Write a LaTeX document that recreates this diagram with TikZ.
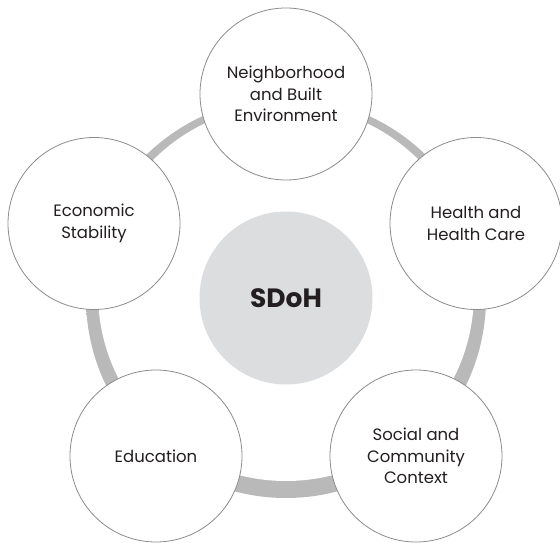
\documentclass[tikz,border=0pt]{standalone}
\usepackage{fontspec}
\setmainfont{Poppins}
\usepackage{tikz}

\definecolor{linegray}{HTML}{8C8C8C}
\definecolor{textdark}{HTML}{231F20}
\definecolor{coregray}{HTML}{DCDDDF}
\definecolor{discedge}{HTML}{DADADA}
\definecolor{ringlight}{HTML}{B9B9B9}
\definecolor{ringdark}{HTML}{8E8E8E}

\pgfdeclareradialshading{discshade}{\pgfpointorigin}{color(0bp)=(white); color(28bp)=(white); color(50bp)=(discedge)}
\pgfdeclareradialshading{ringshade}{\pgfpointorigin}{color(0bp)=(ringlight); color(45.5bp)=(ringlight); color(50bp)=(ringdark)}

\begin{document}
\begin{tikzpicture}[x=1pt, y=1pt,
    factor/.style={circle, draw=linegray, line width=0.8pt, fill=white,
        minimum size=172pt, inner sep=0pt, align=center, text=textdark,
        font=\fontsize{16.5}{21.6}\selectfont},
    core/.style={circle, fill=coregray, minimum size=173pt, inner sep=0pt,
        text=textdark, font=\fontsize{26.5}{30}\selectfont\bfseries}]
    \useasboundingbox (0,0) rectangle (560,542);

    % Grey ring and shaded disc behind everything
    \shade[shading=ringshade] (286,244) circle (200);
    \shade[shading=discshade] (286,249) circle (188);

    % Centre circle
    \node[core] (sdoh) at (286,244) {SDoH};

    % The five determinants round it
    \node[factor] (neighborhood) at (286,448) {Neighborhood\\and Built\\Environment};
    \node[factor] (economic) at (94,318.5) {Economic\\Stability};
    \node[factor] (health) at (476,318.5) {Health and\\Health Care};
    \node[factor] (education) at (156,86) {Education};
    \node[factor] (social) at (416,86) {Social and\\Community\\Context};
\end{tikzpicture}
\end{document}
